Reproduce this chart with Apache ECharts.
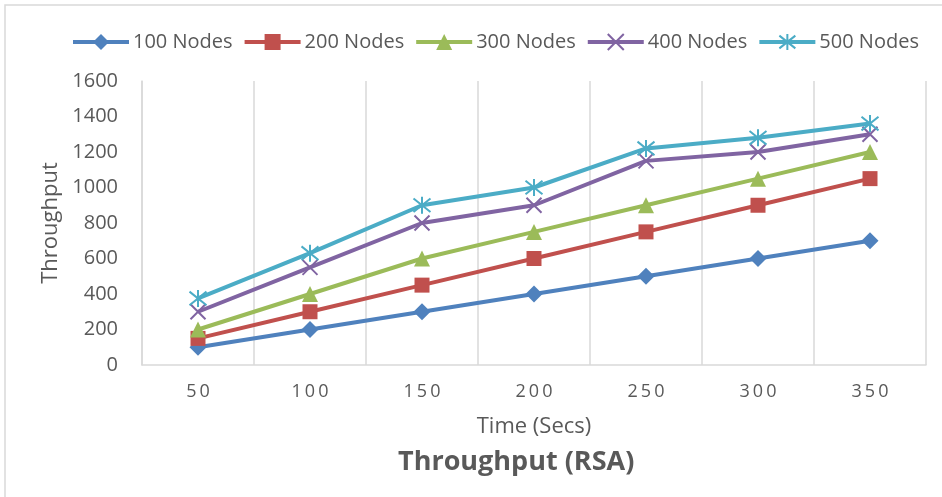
<!DOCTYPE html>
<html>
<head>
<meta charset="utf-8">
<script src="https://cdn.jsdelivr.net/npm/echarts@6/dist/echarts.min.js"></script>
<style>
  html, body { margin: 0; padding: 0; background: #fff; }
  #chart { width: 942px; height: 497px; }
</style>
</head>
<body>
<div id="chart"></div>
<script>
// Time in seconds along the x axis
const times = ['50', '100', '150', '200', '250', '300', '350'];

// Throughput per node count
const nodes100 = [100, 200, 300, 400, 500, 600, 700];
const nodes200 = [150, 300, 450, 600, 750, 900, 1050];
const nodes300 = [200, 400, 600, 750, 900, 1050, 1200];
const nodes400 = [300, 550, 800, 900, 1150, 1200, 1300];
const nodes500 = [375, 630, 900, 1000, 1220, 1280, 1360];

const seriesNames = ['100 Nodes', '200 Nodes', '300 Nodes', '400 Nodes', '500 Nodes'];
const seriesData = [nodes100, nodes200, nodes300, nodes400, nodes500];
const colors = ['#4F81BD', '#C0504D', '#9BBB59', '#8064A2', '#4BACC6'];

// Marker shapes: diamond, square, triangle, cross and asterisk
const crossPath = 'path://M1,1 L9,9 M9,1 L1,9';
const starPath = 'path://M1,1 L9,9 M9,1 L1,9 M5,0 L5,10';
const symbols = ['diamond', 'rect', 'triangle', crossPath, starPath];
const symbolSizes = [17, 15, 16, 15, 17];

const txt = '#595959';
const grid = '#D9D9D9';
const font = 'Open Sans';

const series = seriesNames.map((name, i) => {
  const stroked = i >= 3;
  return {
    name: name,
    type: 'line',
    data: seriesData[i],
    symbol: symbols[i],
    symbolSize: symbolSizes[i],
    showAllSymbol: true,
    z: 2 + i,
    lineStyle: { color: colors[i], width: 4 },
    itemStyle: stroked
      ? { color: 'rgba(0,0,0,0)', borderColor: colors[i], borderWidth: 2 }
      : { color: colors[i], borderWidth: 0 },
    emphasis: { disabled: true },
    animation: false
  };
});

const chart = echarts.init(document.getElementById('chart'), null, { renderer: 'canvas' });
chart.setOption({
  backgroundColor: '#fff',
  animation: false,
  graphic: [{
    type: 'rect',
    shape: { x: 5, y: 5, width: 960, height: 520 },
    style: { fill: 'none', stroke: grid, lineWidth: 1.5 },
    silent: true
  }],
  title: {
    text: 'Throughput (RSA)',
    left: 393,
    top: 444,
    textStyle: { fontFamily: font, fontSize: 27, fontWeight: 'bold', color: txt }
  },
  legend: {
    data: seriesNames,
    orient: 'horizontal',
    top: 27,
    left: 66,
    width: 870,
    padding: [5, 5],
    itemWidth: 56,
    itemHeight: 20,
    itemGap: 10,
    lineStyle: { width: 4 },
    textStyle: { fontFamily: font, fontSize: 20, color: txt, padding: [0, 0, 0, -1] }
  },
  grid: { left: 142, right: 16, top: 81, bottom: 132 },
  xAxis: {
    type: 'category',
    data: times,
    boundaryGap: true,
    name: 'Time (Secs)',
    nameLocation: 'middle',
    nameGap: 51,
    nameTextStyle: { fontFamily: font, fontSize: 22, color: txt },
    axisLine: { show: true, lineStyle: { color: grid, width: 1.5 } },
    axisTick: { show: false },
    splitLine: { show: true, lineStyle: { color: grid, width: 1.5 } },
    axisLabel: {
      fontFamily: font, fontSize: 18, color: txt, margin: 18,
      formatter: v => v.split('').join('\u2009')
    }
  },
  yAxis: {
    type: 'value',
    min: 0,
    max: 1600,
    interval: 200,
    name: 'Throughput',
    nameLocation: 'middle',
    nameGap: 78,
    nameRotate: 90,
    nameTextStyle: { fontFamily: font, fontSize: 22, color: txt },
    axisLine: { show: true, lineStyle: { color: grid, width: 1.5 } },
    axisTick: { show: false },
    splitLine: { show: false },
    axisLabel: { fontFamily: font, fontSize: 20, color: txt, margin: 24, formatter: v => String(v) }
  },
  series: series
});
</script>
</body>
</html>
